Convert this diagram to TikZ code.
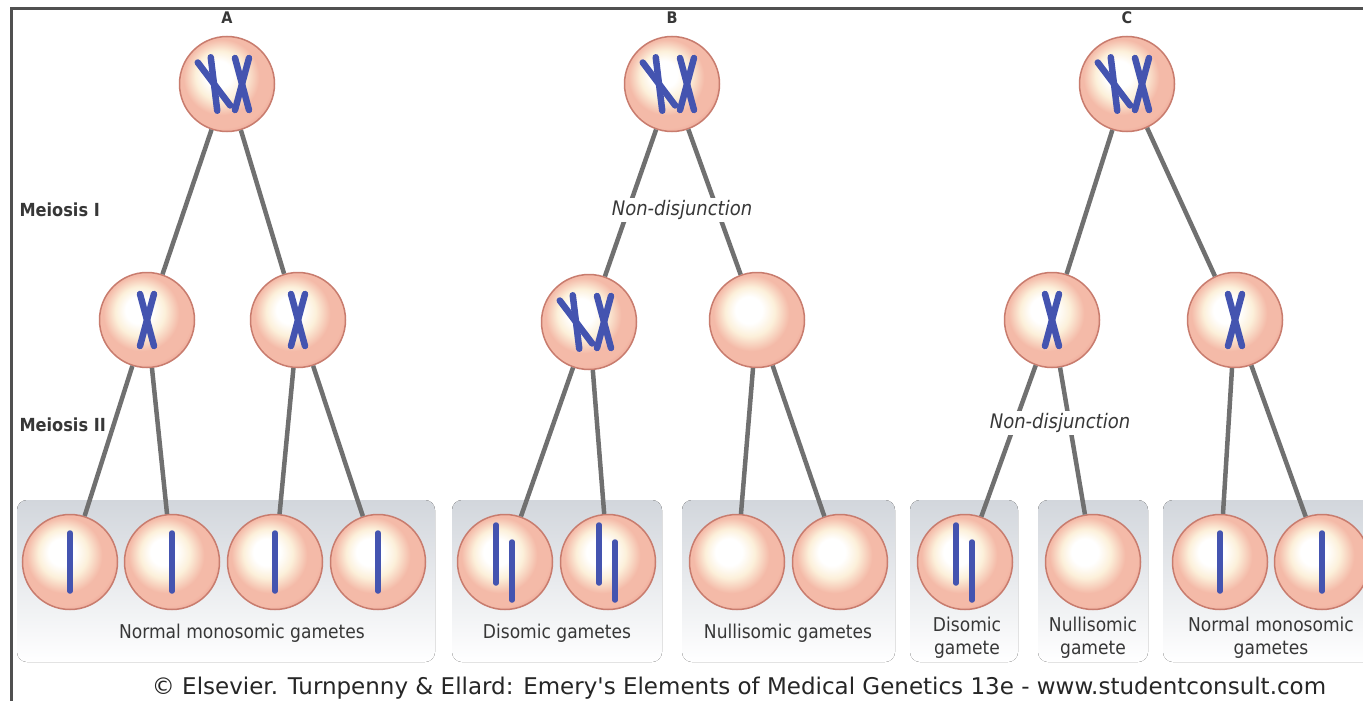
\documentclass[tikz,border=0pt]{standalone}
\usepackage{fontspec}
\setmainfont{DejaVu Sans Condensed}
\newfontfamily\creditfont{DejaVu Sans}

\definecolor{cellpink}{RGB}{244,186,168}
\definecolor{cellpinkdark}{RGB}{237,168,152}
\definecolor{cellcream}{RGB}{252,240,218}
\definecolor{cellrim}{RGB}{200,124,110}
\definecolor{chromblue}{RGB}{68,84,176}
\definecolor{linkgray}{RGB}{112,112,112}
\definecolor{boxgray}{RGB}{210,214,220}
\definecolor{labelgray}{RGB}{55,55,55}
\definecolor{framegray}{RGB}{80,80,80}

% pale centre, pink rim
\pgfdeclareradialshading{cellshade}{\pgfpoint{-5bp}{6bp}}{%
  color(0bp)=(white); color(7bp)=(white); color(13bp)=(cellcream);
  color(20bp)=(cellpink); color(26bp)=(cellpink); color(29bp)=(cellpinkdark);
  color(50bp)=(cellpinkdark)}

\tikzset{
  cell/.style={circle, minimum size=95pt, inner sep=0pt, shade, shading=cellshade,
    draw=cellrim, line width=1.5pt},
  link/.style={draw=linkgray, line width=4.5pt},
  gambox/.style={rounded corners=10pt, top color=boxgray, bottom color=white},
  chromatid/.style={draw=chromblue, line width=5.5pt, line cap=round},
  stage/.style={anchor=west, text=labelgray, font=\bfseries\fontsize{18}{20}\selectfont},
  event/.style={fill=white, inner sep=2pt, text=labelgray, font=\itshape\fontsize{20}{22}\selectfont},
  kind/.style={align=center, text=labelgray, font=\fontsize{19}{23}\selectfont},
  panel/.style={text=labelgray, font=\bfseries\fontsize{16}{18}\selectfont},
  pics/xchrom/.style={code={
    \draw[chromatid, line width=6.5pt] (-7,-26) -- (7,26);
    \draw[chromatid, line width=6.5pt] (7,-26) -- (-7,26);
  }},
  pics/bar/.style={code={
    \draw[chromatid] (0,-29) -- (0,29);
  }},
  pics/twobars/.style={code={
    \draw[chromatid] (-9,-37) -- (-9,21);
    \draw[chromatid] (7,-20) -- (7,38);
  }},
}

\begin{document}
\begin{tikzpicture}[x=1pt,y=-1pt]
  \path[use as bounding box, clip] (0,0) rectangle (1363,701);
  \fill[white] (0,0) rectangle (1363,701);
  \draw[framegray, line width=3pt] (11,701) -- (11,9) -- (1363,9);

  % grey panels behind the gametes
  \fill[gambox] (17,500) rectangle (435,662);
  \fill[gambox] (452,500) rectangle (662,662);
  \fill[gambox] (682,500) rectangle (895,662);
  \fill[gambox] (910,500) rectangle (1018,662);
  \fill[gambox] (1038,500) rectangle (1148,662);
  \fill[gambox] (1163,500) rectangle (1390,662);

  % cells
  \node[cell] (At) at (227,84) {};
  \node[cell] (Al) at (147,320) {};
  \node[cell] (Ar) at (298,320) {};
  \foreach \x/\n in {70/1,172/2,275/3,378/4}
    \node[cell] (Ag\n) at (\x,562) {};

  \node[cell] (Bt) at (672,84) {};
  \node[cell] (Bl) at (589,322) {};
  \node[cell] (Br) at (757,320) {};
  \foreach \x/\n in {505/1,608/2,737/3,840/4}
    \node[cell] (Bg\n) at (\x,562) {};

  \node[cell] (Ct) at (1127,84) {};
  \node[cell] (Cl) at (1052,320) {};
  \node[cell] (Cr) at (1235,320) {};
  \foreach \x/\n in {965/1,1093/2,1220/3,1322/4}
    \node[cell] (Cg\n) at (\x,562) {};

  \foreach \a/\b in {At/Al,At/Ar,Al/Ag1,Al/Ag2,Ar/Ag3,Ar/Ag4,
                     Bt/Bl,Bt/Br,Bl/Bg1,Bl/Bg2,Br/Bg3,Br/Bg4,
                     Ct/Cl,Ct/Cr,Cl/Cg1,Cl/Cg2,Cr/Cg3,Cr/Cg4}
    \draw[link] (\a) -- (\b);

  % chromosomes
  \foreach \c in {At,Bt,Ct,Bl} {
    \pic[rotate=22] at ([xshift=-13pt]\c) {xchrom};
    \pic at ([xshift=15pt]\c) {xchrom};
  }
  \foreach \c in {Al,Ar,Cl,Cr}
    \pic at (\c) {xchrom};
  \foreach \c in {Ag1,Ag2,Ag3,Ag4,Cg3,Cg4}
    \pic at (\c) {bar};
  \foreach \c in {Bg1,Bg2,Cg1}
    \pic at (\c) {twobars};

  % labels
  \node[panel] (pa) at (227,18) {A};
  \node[panel] (pb) at (672,18) {B};
  \node[panel] (pc) at (1127,18) {C};
  \node[stage] (m1) at (16,210) {Meiosis I};
  \node[stage] (m2) at (16,425) {Meiosis II};
  \node[event] (nd1) at (682,210) {Non-disjunction};
  \node[event] (nd2) at (1060,423) {Non-disjunction};

  \node[kind] (ka) at (242,633) {Normal monosomic gametes};
  \node[kind] (kb1) at (557,633) {Disomic gametes};
  \node[kind] (kb2) at (788,633) {Nullisomic gametes};
  \node[kind] (kc1) at (967,638) {Disomic\\gamete};
  \node[kind] (kc2) at (1093,638) {Nullisomic\\gamete};
  \node[kind] (kc3) at (1271,638) {Normal monosomic\\gametes};

  \node[font=\creditfont\fontsize{23}{26}\selectfont, text=black!85] (credit) at (739,688)
    {© Elsevier. Turnpenny \& Ellard: Emery's Elements of Medical Genetics 13e - www.studentconsult.com};
\end{tikzpicture}
\end{document}
